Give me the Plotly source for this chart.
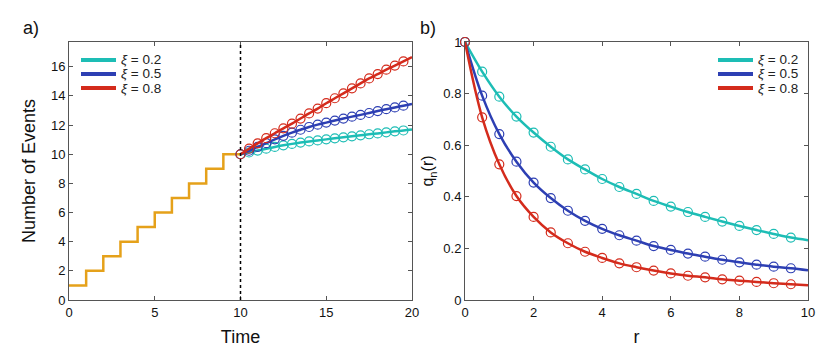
import plotly.graph_objects as go

# panel a) data
stair_t = [0, 1, 2, 3, 4, 5, 6, 7, 8, 9, 10]
stair_n = [1, 2, 3, 4, 5, 6, 7, 8, 9, 10, 10]

t_pred = [10, 10.5, 11, 11.5, 12, 12.5, 13, 13.5, 14, 14.5, 15,
          15.5, 16, 16.5, 17, 17.5, 18, 18.5, 19, 19.5, 20]
n_02 = [10, 10.12, 10.25, 10.38, 10.5, 10.61, 10.71, 10.8, 10.88, 10.95, 11.02,
        11.09, 11.16, 11.23, 11.3, 11.37, 11.43, 11.5, 11.57, 11.63, 11.7]
n_05 = [10, 10.24, 10.5, 10.76, 11.02, 11.26, 11.48, 11.68, 11.87, 12.03, 12.17,
        12.31, 12.45, 12.58, 12.7, 12.83, 12.96, 13.09, 13.21, 13.33, 13.45]
n_08 = [10, 10.38, 10.75, 11.1, 11.44, 11.78, 12.1, 12.45, 12.8, 13.13, 13.5,
        13.84, 14.18, 14.52, 14.86, 15.2, 15.5, 15.8, 16.08, 16.37, 16.66]

# panel b) data
r = [0, 0.5, 1, 1.5, 2, 2.5, 3, 3.5, 4, 4.5, 5,
     5.5, 6, 6.5, 7, 7.5, 8, 8.5, 9, 9.5, 10]
q_02 = [1, 0.885, 0.788, 0.711, 0.649, 0.594, 0.545, 0.506, 0.469, 0.438, 0.411,
        0.384, 0.362, 0.341, 0.322, 0.304, 0.287, 0.271, 0.256, 0.242, 0.232]
q_05 = [1, 0.792, 0.643, 0.536, 0.455, 0.395, 0.346, 0.307, 0.276, 0.251, 0.230,
        0.209, 0.194, 0.180, 0.168, 0.156, 0.146, 0.137, 0.129, 0.123, 0.115]
q_08 = [1, 0.708, 0.526, 0.403, 0.322, 0.262, 0.220, 0.187, 0.163, 0.142, 0.127,
        0.114, 0.103, 0.094, 0.088, 0.080, 0.075, 0.070, 0.065, 0.061, 0.057]

labels = ["0.2", "0.5", "0.8"]
colors = ["#1dbdb5", "#2d3fb3", "#d42b1c"]
orange = "#e5a11a"
font = "Liberation Sans, Arial, sans-serif"

W, H = 830, 358
OFF = 8  # page body margin


def px(x):
    return (x - OFF) / W


def py(y):
    return 1 - (y - OFF) / H


fig = go.Figure()

fig.add_trace(go.Scatter(x=stair_t, y=stair_n, mode="lines", line_shape="hv",
                         line=dict(color=orange, width=2.5), showlegend=False,
                         xaxis="x", yaxis="y"))

for ys, c in zip([n_02, n_05, n_08], colors):
    fig.add_trace(go.Scatter(x=t_pred, y=ys, mode="lines", line_shape="spline",
                             line=dict(color=c, width=2.5), showlegend=False,
                             xaxis="x", yaxis="y"))
    fig.add_trace(go.Scatter(x=t_pred[:-1], y=ys[:-1], mode="markers",
                             marker=dict(symbol="circle-open", size=9, color=c,
                                         line=dict(width=1.2)),
                             showlegend=False, cliponaxis=False,
                             xaxis="x", yaxis="y"))

for ys, c in zip([q_02, q_05, q_08], colors):
    fig.add_trace(go.Scatter(x=r, y=ys, mode="lines", line_shape="spline",
                             line=dict(color=c, width=2.5), showlegend=False,
                             xaxis="x2", yaxis="y2"))
    fig.add_trace(go.Scatter(x=r[:-1], y=ys[:-1], mode="markers",
                             marker=dict(symbol="circle-open", size=9, color=c,
                                         line=dict(width=1.2)),
                             showlegend=False, cliponaxis=False,
                             xaxis="x2", yaxis="y2"))

fig.add_shape(type="line", x0=10, x1=10, y0=0, y1=1, xref="x", yref="y domain",
              line=dict(color="black", width=1.5, dash="dot"))

# hand-drawn legends (keys + labels) in paper space
annotations = []
for legend_x in (81, 718):
    for i, (lab, c) in enumerate(zip(labels, colors)):
        yy = py(60 + 14 * i)
        fig.add_shape(type="line", xref="paper", yref="paper",
                      x0=px(legend_x), x1=px(legend_x + 35), y0=yy, y1=yy,
                      line=dict(color=c, width=4))
        annotations.append(dict(text="<i>ξ</i> = " + lab, x=px(legend_x + 38), y=yy,
                                xref="paper", yref="paper", xanchor="left",
                                yanchor="middle", showarrow=False,
                                font=dict(size=13.5, color="#222")))

annotations += [
    dict(text="a)", x=px(21), y=py(28), xref="paper", yref="paper",
         xanchor="left", yanchor="middle", showarrow=False, font=dict(size=18)),
    dict(text="b)", x=px(418), y=py(28), xref="paper", yref="paper",
         xanchor="left", yanchor="middle", showarrow=False, font=dict(size=18)),
]

axis_common = dict(showline=True, linecolor="#555", linewidth=1, mirror="ticks",
                   ticks="inside", ticklen=4, tickcolor="#555", showgrid=False,
                   zeroline=False, automargin=False,
                   tickfont=dict(size=13, color="#111"))

fig.update_layout(
    width=W, height=H,
    margin=dict(l=0, r=0, t=0, b=0, pad=0, autoexpand=False),
    paper_bgcolor="white", plot_bgcolor="white",
    font=dict(family=font, color="#111"),
    showlegend=False,
    xaxis=dict(domain=[px(69), px(412)], range=[0, 20], tickvals=[0, 5, 10, 15, 20],
               title=dict(text="Time", font=dict(size=18), standoff=11), anchor="y",
               **axis_common),
    yaxis=dict(domain=[py(300), py(42)], range=[0, 17.7],
               tickvals=[0, 2, 4, 6, 8, 10, 12, 14, 16],
               title=dict(text="Number of Events", font=dict(size=18), standoff=10),
               anchor="x", **axis_common),
    xaxis2=dict(domain=[px(465), px(808)], range=[0, 10], tickvals=[0, 2, 4, 6, 8, 10],
                title=dict(text="r", font=dict(size=18), standoff=11), anchor="y2",
                **axis_common),
    yaxis2=dict(domain=[py(300), py(42)], range=[0, 1],
                tickvals=[0, 0.2, 0.4, 0.6, 0.8, 1],
                ticktext=["0", "0.2", "0.4", "0.6", "0.8", "1"],
                title=dict(text="q<sub>n</sub>(r)", font=dict(size=16), standoff=5),
                anchor="x2", **axis_common),
    annotations=annotations,
)

fig.write_html("out.html")
